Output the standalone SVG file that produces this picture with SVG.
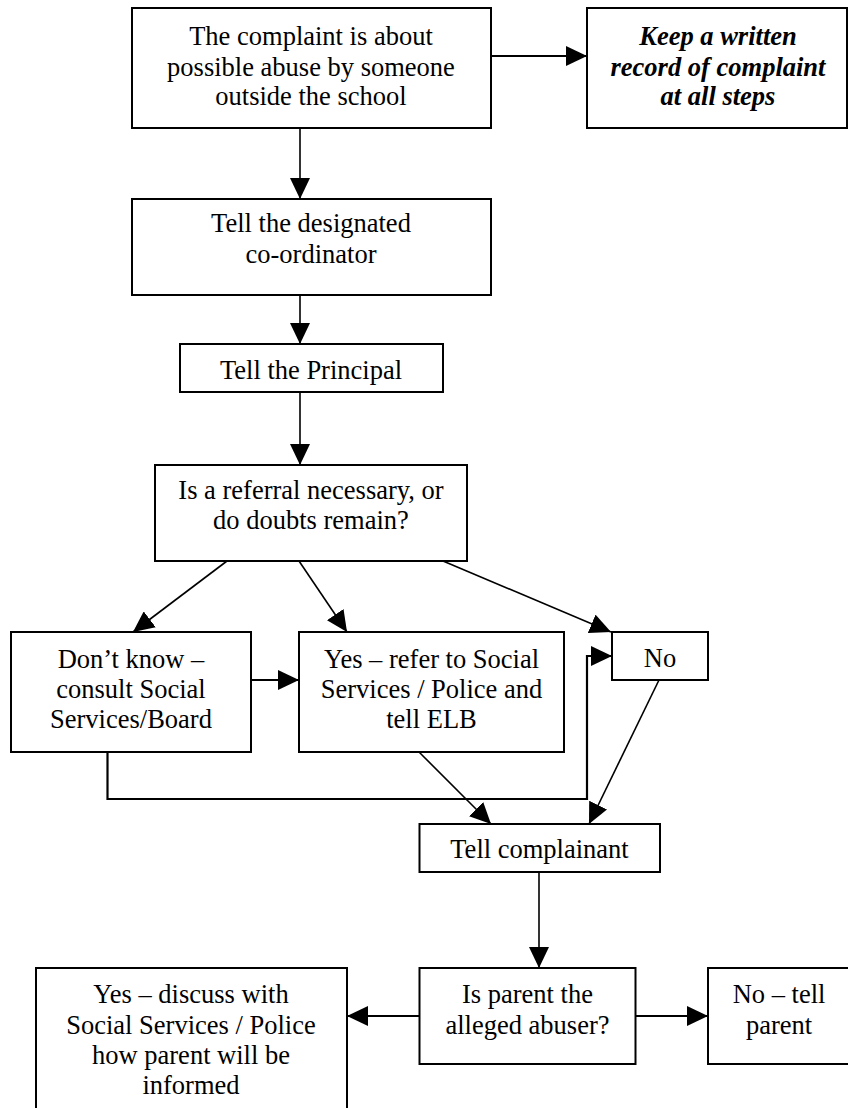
<svg xmlns="http://www.w3.org/2000/svg" width="848" height="1108" viewBox="0 0 848 1108">
<style>
.box{fill:#fff;stroke:#000;stroke-width:2}
.t{font-family:"Liberation Serif","Times New Roman",serif;font-size:26.5px;fill:#000;text-anchor:middle}
.bi{font-weight:bold;font-style:italic}
.c{fill:none;stroke:#000;stroke-width:1.6}
.c2{fill:none;stroke:#000;stroke-width:2.2}
</style>
<defs>
<marker id="ah" viewBox="0 0 21 20" refX="21" refY="10" markerWidth="21" markerHeight="20" markerUnits="userSpaceOnUse" orient="auto">
<path d="M0,0 L21,10 L0,20 z" fill="#000"/>
</marker>
</defs>
<rect width="848" height="1108" fill="#fff"/>
<g id="connectors">
<path class="c2" d="M491,56 H587" marker-end="url(#ah)"/>
<path class="c" d="M300,128 V199" marker-end="url(#ah)"/>
<path class="c" d="M300,295 V344" marker-end="url(#ah)"/>
<path class="c" d="M300,392 V465" marker-end="url(#ah)"/>
<path class="c" d="M227,561 L133,632" marker-end="url(#ah)"/>
<path class="c" d="M299,561 L347,632" marker-end="url(#ah)"/>
<path class="c" d="M443,561 L611,632" marker-end="url(#ah)"/>
<path class="c2" d="M251,680 H299" marker-end="url(#ah)"/>
<path class="c2" d="M107.5,752 V799 H587 V656 H612" marker-end="url(#ah)"/>
<path class="c" d="M419,752 L491,824" marker-end="url(#ah)"/>
<path class="c" d="M659,680 L589,824" marker-end="url(#ah)"/>
<path class="c" d="M539,872 V968" marker-end="url(#ah)"/>
<path class="c2" d="M419.5,1016 H347" marker-end="url(#ah)"/>
<path class="c2" d="M635.5,1016 H708" marker-end="url(#ah)"/>
</g>
<g id="n1">
<rect class="box" x="132" y="8" width="359" height="120"/>
<text class="t" x="311" y="45">The complaint is about</text>
<text class="t" x="311" y="75.5">possible abuse by someone</text>
<text class="t" x="311" y="105">outside the school</text>
</g>
<g id="n2">
<rect class="box" x="587" y="8" width="260" height="120"/>
<text class="t bi" x="718" y="45">Keep a written</text>
<text class="t bi" x="718" y="75.5">record of complaint</text>
<text class="t bi" x="718" y="105">at all steps</text>
</g>
<g id="n3">
<rect class="box" x="132" y="199" width="359" height="96"/>
<text class="t" x="311" y="232">Tell the designated</text>
<text class="t" x="311" y="263">co-ordinator</text>
</g>
<g id="n4">
<rect class="box" x="180" y="344" width="263" height="48"/>
<text class="t" x="311" y="379">Tell the Principal</text>
</g>
<g id="n5">
<rect class="box" x="155" y="465" width="312" height="96"/>
<text class="t" x="311" y="499">Is a referral necessary, or</text>
<text class="t" x="311" y="529">do doubts remain?</text>
</g>
<g id="n6">
<rect class="box" x="11" y="632" width="240" height="120"/>
<text class="t" x="131" y="668">Don’t know –</text>
<text class="t" x="131" y="698">consult Social</text>
<text class="t" x="131" y="728">Services/Board</text>
</g>
<g id="n7">
<rect class="box" x="299" y="632" width="265" height="120"/>
<text class="t" x="431.5" y="668">Yes – refer to Social</text>
<text class="t" x="431.5" y="698">Services / Police and</text>
<text class="t" x="431.5" y="728">tell ELB</text>
</g>
<g id="n8">
<rect class="box" x="612" y="632" width="96" height="48"/>
<text class="t" x="660" y="667">No</text>
</g>
<g id="n9">
<rect class="box" x="419.5" y="824" width="240.5" height="48"/>
<text class="t" x="539.5" y="858">Tell complainant</text>
</g>
<g id="n10">
<rect class="box" x="419.5" y="968" width="216" height="96"/>
<text class="t" x="527.5" y="1003">Is parent the</text>
<text class="t" x="527.5" y="1034">alleged abuser?</text>
</g>
<g id="n11">
<rect class="box" x="36" y="968" width="311" height="160"/>
<text class="t" x="191" y="1003">Yes – discuss with</text>
<text class="t" x="191" y="1034">Social Services / Police</text>
<text class="t" x="191" y="1064">how parent will be</text>
<text class="t" x="191" y="1094">informed</text>
</g>
<g id="n12">
<rect class="box" x="708" y="968" width="150" height="96"/>
<text class="t" x="779" y="1003">No – tell</text>
<text class="t" x="779" y="1034">parent</text>
</g>
</svg>
